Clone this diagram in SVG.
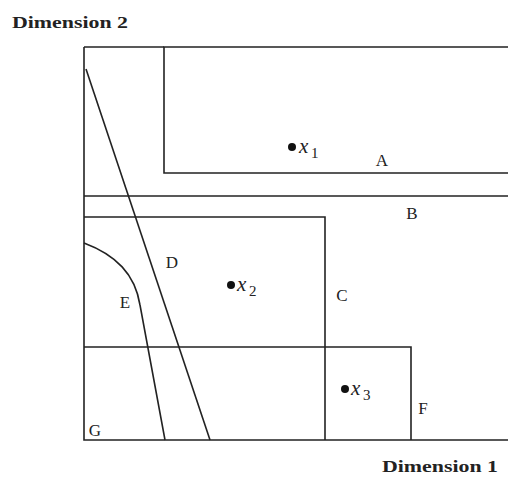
<svg xmlns="http://www.w3.org/2000/svg" width="508" height="477" viewBox="0 0 508 477">
<style>
.ln{fill:none;stroke:#222;stroke-width:1.6}
.lb{font-family:"Liberation Serif","Times New Roman",serif;font-size:17px;fill:#222}
.ax{font-family:"Liberation Serif","Times New Roman",serif;font-size:16px;font-weight:bold;fill:#222}
.var{font-family:"Liberation Serif","Times New Roman",serif;font-style:italic;font-size:21px;fill:#222}
.sub{font-family:"Liberation Serif","Times New Roman",serif;font-size:15px;fill:#222}
</style>
<rect width="508" height="477" fill="#fff"/>
<g id="connectors">
<path class="ln" d="M84,47 L84,440 L508,440"/>
<path class="ln" d="M84,47 L164,47"/>
</g>
<g id="A">
<path class="ln" d="M508,47 L164,47 L164,173 L508,173"/>
<text class="lb" x="382" y="166" text-anchor="middle">A</text>
</g>
<g id="B">
<path class="ln" d="M84,196 L508,196"/>
<text class="lb" x="412" y="219" text-anchor="middle">B</text>
</g>
<g id="C">
<path class="ln" d="M84,217 L325,217 L325,440"/>
<text class="lb" x="342" y="301" text-anchor="middle">C</text>
</g>
<g id="D">
<path class="ln" d="M86,69 L210,440"/>
<text class="lb" x="172" y="268" text-anchor="middle">D</text>
</g>
<g id="E">
<path class="ln" d="M84,243 C116,255 135,274 140,305 L165,440"/>
<text class="lb" x="125" y="308" text-anchor="middle">E</text>
</g>
<g id="F">
<path class="ln" d="M84,347 L411,347 L411,440"/>
<text class="lb" x="423" y="414" text-anchor="middle">F</text>
</g>
<g id="G">
<text class="lb" x="95" y="436" text-anchor="middle">G</text>
</g>
<g id="x1">
<circle cx="292" cy="147" r="4" fill="#111"/>
<text class="var" x="299" y="153">x</text><text class="sub" x="311" y="158">1</text>
</g>
<g id="x2">
<circle cx="231" cy="285" r="4" fill="#111"/>
<text class="var" x="237" y="291">x</text><text class="sub" x="249" y="296">2</text>
</g>
<g id="x3">
<circle cx="345" cy="389" r="4" fill="#111"/>
<text class="var" x="351" y="395">x</text><text class="sub" x="363" y="400">3</text>
</g>
<g id="labels">
<text class="ax" x="12" y="28" textLength="116" lengthAdjust="spacingAndGlyphs">Dimension 2</text>
<text class="ax" x="382" y="472" textLength="116" lengthAdjust="spacingAndGlyphs">Dimension 1</text>
</g>
</svg>
